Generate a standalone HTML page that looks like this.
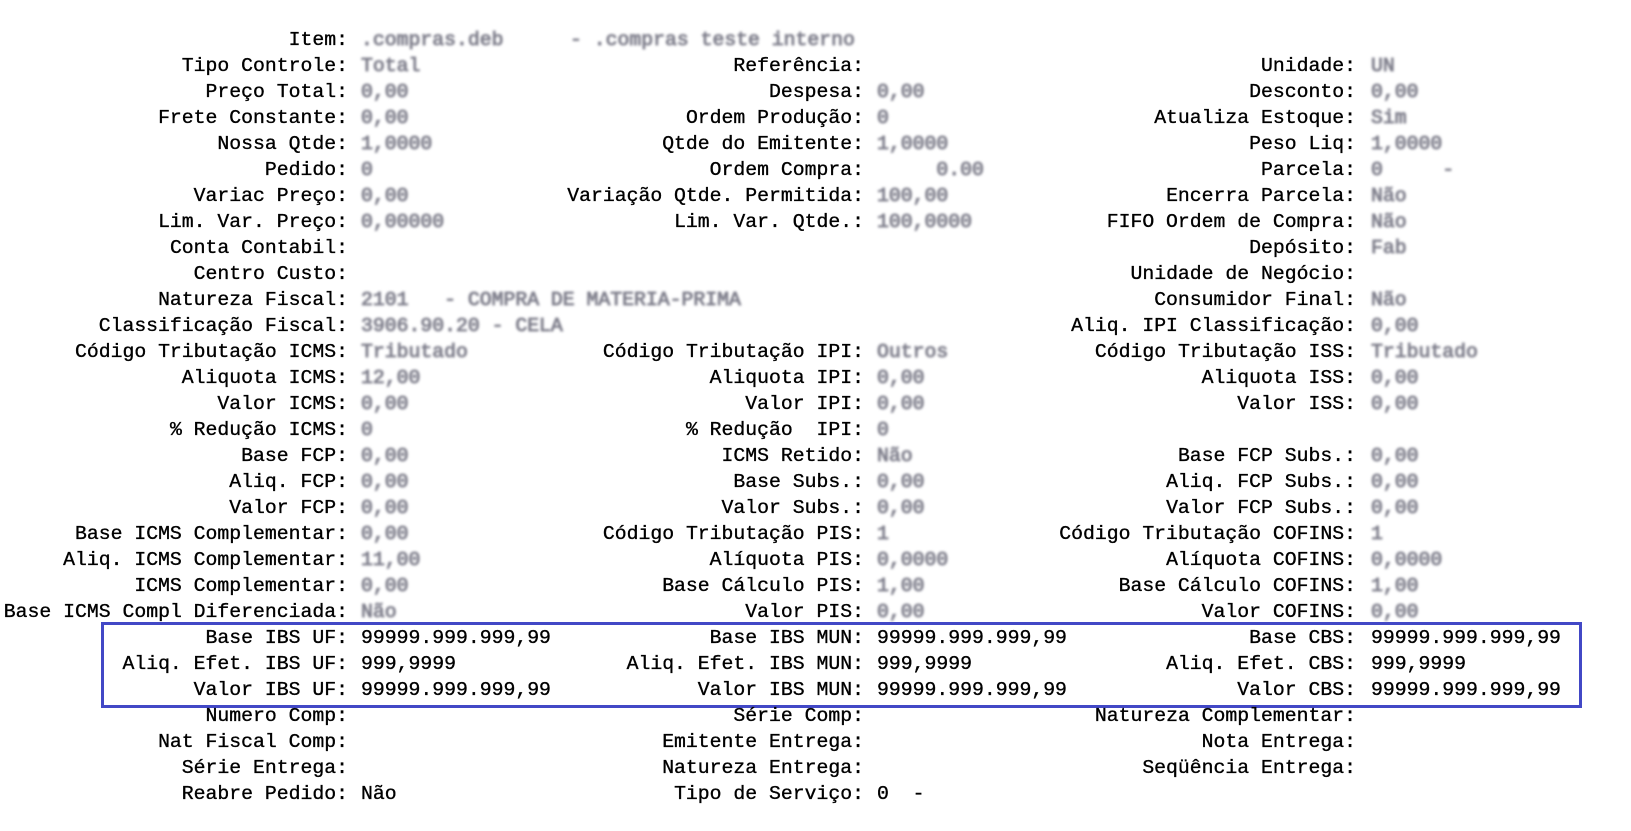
<!DOCTYPE html>
<html><head><meta charset="utf-8"><style>
html,body{margin:0;padding:0;background:#fff;}
body{width:1631px;height:831px;position:relative;overflow:hidden;font-family:"Liberation Mono",monospace;font-size:19.8px;color:#000;-webkit-text-stroke:0.35px #000;}
.a,.b,.c,.x,.y,.z{position:absolute;height:26px;line-height:26px;white-space:pre;margin-top:1px;}
.a{right:1283px;text-align:right}
.b{right:767px;text-align:right}
.c{right:275px;text-align:right}
.x{left:361px}.y{left:877px}.z{left:1371px}
.bl{color:#6a6a78;filter:blur(1.2px);-webkit-text-stroke:1px #8a8a96;}
#box{position:absolute;left:101px;top:622px;width:1475px;height:80px;border:3px solid #4248c6;}
</style></head><body>
<div id="box"></div>

<div class="a" style="top:26px">Item:</div><div class="x bl" style="top:26px">.compras.deb</div><div class="bl" style="position:absolute;left:570px;top:27px;line-height:26px;white-space:pre">- .compras teste interno</div>

<div class="a" style="top:52px">Tipo Controle:</div><div class="x bl" style="top:52px">Total</div><div class="b" style="top:52px">Referência:</div><div class="c" style="top:52px">Unidade:</div><div class="z bl" style="top:52px">UN</div>

<div class="a" style="top:78px">Preço Total:</div><div class="x bl" style="top:78px">0,00</div><div class="b" style="top:78px">Despesa:</div><div class="y bl" style="top:78px">0,00</div><div class="c" style="top:78px">Desconto:</div><div class="z bl" style="top:78px">0,00</div>

<div class="a" style="top:104px">Frete Constante:</div><div class="x bl" style="top:104px">0,00</div><div class="b" style="top:104px">Ordem Produção:</div><div class="y bl" style="top:104px">0</div><div class="c" style="top:104px">Atualiza Estoque:</div><div class="z bl" style="top:104px">Sim</div>

<div class="a" style="top:130px">Nossa Qtde:</div><div class="x bl" style="top:130px">1,0000</div><div class="b" style="top:130px">Qtde do Emitente:</div><div class="y bl" style="top:130px">1,0000</div><div class="c" style="top:130px">Peso Liq:</div><div class="z bl" style="top:130px">1,0000</div>

<div class="a" style="top:156px">Pedido:</div><div class="x bl" style="top:156px">0</div><div class="b" style="top:156px">Ordem Compra:</div><div class="y bl" style="top:156px">     0.00</div><div class="c" style="top:156px">Parcela:</div><div class="z bl" style="top:156px">0     -</div>

<div class="a" style="top:182px">Variac Preço:</div><div class="x bl" style="top:182px">0,00</div><div class="b" style="top:182px">Variação Qtde. Permitida:</div><div class="y bl" style="top:182px">100,00</div><div class="c" style="top:182px">Encerra Parcela:</div><div class="z bl" style="top:182px">Não</div>

<div class="a" style="top:208px">Lim. Var. Preço:</div><div class="x bl" style="top:208px">0,00000</div><div class="b" style="top:208px">Lim. Var. Qtde.:</div><div class="y bl" style="top:208px">100,0000</div><div class="c" style="top:208px">FIFO Ordem de Compra:</div><div class="z bl" style="top:208px">Não</div>

<div class="a" style="top:234px">Conta Contabil:</div><div class="c" style="top:234px">Depósito:</div><div class="z bl" style="top:234px">Fab</div>

<div class="a" style="top:260px">Centro Custo:</div><div class="c" style="top:260px">Unidade de Negócio:</div>

<div class="a" style="top:286px">Natureza Fiscal:</div><div class="x bl" style="top:286px">2101   - COMPRA DE MATERIA-PRIMA</div><div class="c" style="top:286px">Consumidor Final:</div><div class="z bl" style="top:286px">Não</div>

<div class="a" style="top:312px">Classificação Fiscal:</div><div class="x bl" style="top:312px">3906.90.20 - CELA</div><div class="c" style="top:312px">Aliq. IPI Classificação:</div><div class="z bl" style="top:312px">0,00</div>

<div class="a" style="top:338px">Código Tributação ICMS:</div><div class="x bl" style="top:338px">Tributado</div><div class="b" style="top:338px">Código Tributação IPI:</div><div class="y bl" style="top:338px">Outros</div><div class="c" style="top:338px">Código Tributação ISS:</div><div class="z bl" style="top:338px">Tributado</div>

<div class="a" style="top:364px">Aliquota ICMS:</div><div class="x bl" style="top:364px">12,00</div><div class="b" style="top:364px">Aliquota IPI:</div><div class="y bl" style="top:364px">0,00</div><div class="c" style="top:364px">Aliquota ISS:</div><div class="z bl" style="top:364px">0,00</div>

<div class="a" style="top:390px">Valor ICMS:</div><div class="x bl" style="top:390px">0,00</div><div class="b" style="top:390px">Valor IPI:</div><div class="y bl" style="top:390px">0,00</div><div class="c" style="top:390px">Valor ISS:</div><div class="z bl" style="top:390px">0,00</div>

<div class="a" style="top:416px">% Redução ICMS:</div><div class="x bl" style="top:416px">0</div><div class="b" style="top:416px">% Redução  IPI:</div><div class="y bl" style="top:416px">0</div>

<div class="a" style="top:442px">Base FCP:</div><div class="x bl" style="top:442px">0,00</div><div class="b" style="top:442px">ICMS Retido:</div><div class="y bl" style="top:442px">Não</div><div class="c" style="top:442px">Base FCP Subs.:</div><div class="z bl" style="top:442px">0,00</div>

<div class="a" style="top:468px">Aliq. FCP:</div><div class="x bl" style="top:468px">0,00</div><div class="b" style="top:468px">Base Subs.:</div><div class="y bl" style="top:468px">0,00</div><div class="c" style="top:468px">Aliq. FCP Subs.:</div><div class="z bl" style="top:468px">0,00</div>

<div class="a" style="top:494px">Valor FCP:</div><div class="x bl" style="top:494px">0,00</div><div class="b" style="top:494px">Valor Subs.:</div><div class="y bl" style="top:494px">0,00</div><div class="c" style="top:494px">Valor FCP Subs.:</div><div class="z bl" style="top:494px">0,00</div>

<div class="a" style="top:520px">Base ICMS Complementar:</div><div class="x bl" style="top:520px">0,00</div><div class="b" style="top:520px">Código Tributação PIS:</div><div class="y bl" style="top:520px">1</div><div class="c" style="top:520px">Código Tributação COFINS:</div><div class="z bl" style="top:520px">1</div>

<div class="a" style="top:546px">Aliq. ICMS Complementar:</div><div class="x bl" style="top:546px">11,00</div><div class="b" style="top:546px">Alíquota PIS:</div><div class="y bl" style="top:546px">0,0000</div><div class="c" style="top:546px">Alíquota COFINS:</div><div class="z bl" style="top:546px">0,0000</div>

<div class="a" style="top:572px">ICMS Complementar:</div><div class="x bl" style="top:572px">0,00</div><div class="b" style="top:572px">Base Cálculo PIS:</div><div class="y bl" style="top:572px">1,00</div><div class="c" style="top:572px">Base Cálculo COFINS:</div><div class="z bl" style="top:572px">1,00</div>

<div class="a" style="top:598px">Base ICMS Compl Diferenciada:</div><div class="x bl" style="top:598px">Não</div><div class="b" style="top:598px">Valor PIS:</div><div class="y bl" style="top:598px">0,00</div><div class="c" style="top:598px">Valor COFINS:</div><div class="z bl" style="top:598px">0,00</div>

<div class="a" style="top:624px">Base IBS UF:</div><div class="x" style="top:624px">99999.999.999,99</div><div class="b" style="top:624px">Base IBS MUN:</div><div class="y" style="top:624px">99999.999.999,99</div><div class="c" style="top:624px">Base CBS:</div><div class="z" style="top:624px">99999.999.999,99</div>

<div class="a" style="top:650px">Aliq. Efet. IBS UF:</div><div class="x" style="top:650px">999,9999</div><div class="b" style="top:650px">Aliq. Efet. IBS MUN:</div><div class="y" style="top:650px">999,9999</div><div class="c" style="top:650px">Aliq. Efet. CBS:</div><div class="z" style="top:650px">999,9999</div>

<div class="a" style="top:676px">Valor IBS UF:</div><div class="x" style="top:676px">99999.999.999,99</div><div class="b" style="top:676px">Valor IBS MUN:</div><div class="y" style="top:676px">99999.999.999,99</div><div class="c" style="top:676px">Valor CBS:</div><div class="z" style="top:676px">99999.999.999,99</div>

<div class="a" style="top:702px">Numero Comp:</div><div class="b" style="top:702px">Série Comp:</div><div class="c" style="top:702px">Natureza Complementar:</div>

<div class="a" style="top:728px">Nat Fiscal Comp:</div><div class="b" style="top:728px">Emitente Entrega:</div><div class="c" style="top:728px">Nota Entrega:</div>

<div class="a" style="top:754px">Série Entrega:</div><div class="b" style="top:754px">Natureza Entrega:</div><div class="c" style="top:754px">Seqüência Entrega:</div>

<div class="a" style="top:780px">Reabre Pedido:</div><div class="x" style="top:780px">Não</div><div class="b" style="top:780px">Tipo de Serviço:</div><div class="y" style="top:780px">0  -</div>
</body></html>
